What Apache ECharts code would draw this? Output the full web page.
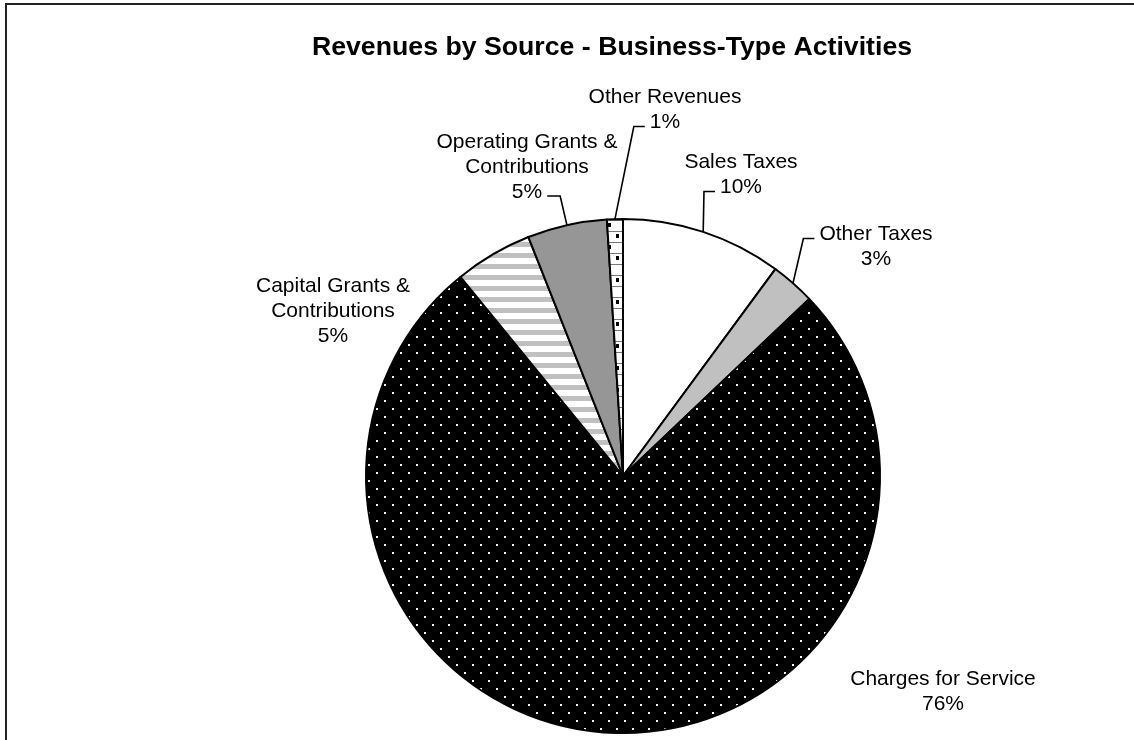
<!DOCTYPE html>
<html>
<head>
<meta charset="utf-8">
<title>Revenues by Source - Business-Type Activities</title>
<script src="https://cdn.jsdelivr.net/npm/echarts@6/dist/echarts.min.js"></script>
<style>
  html, body { margin: 0; padding: 0; background: #fff; }
  #chart { width: 1134px; height: 740px; }
</style>
</head>
<body>
<div id="chart"></div>
<script>
// Revenue sources, clockwise from 12 o'clock
const categories = ['Sales Taxes', 'Other Taxes', 'Charges for Service',
  'Capital Grants & Contributions', 'Operating Grants & Contributions', 'Other Revenues'];
const labelNames = ['Sales Taxes', 'Other Taxes', 'Charges for Service',
  'Capital Grants &\nContributions', 'Operating Grants &\nContributions', 'Other Revenues'];
const values = [10.1, 2.8, 76.2, 4.9, 5.0, 1.0];

const FONT = "'Liberation Sans', Arial, sans-serif";
const LABEL_SIZE = 21;
const LINE_H = 25;

// Fill patterns
function tile(w, h, draw) {
  const c = document.createElement('canvas');
  c.width = w; c.height = h;
  const ctx = c.getContext('2d');
  draw(ctx, w, h);
  return { image: c, repeat: 'repeat' };
}
const dotted = tile(16, 16, (ctx, w, h) => {
  ctx.fillStyle = '#000'; ctx.fillRect(0, 0, w, h);
  ctx.fillStyle = '#fff'; ctx.fillRect(0, 0, 2, 2); ctx.fillRect(8, 8, 2, 2);
});
const striped = tile(8, 11, (ctx, w, h) => {
  ctx.fillStyle = '#fff'; ctx.fillRect(0, 0, w, h);
  ctx.fillStyle = '#c0c0c0'; ctx.fillRect(0, 0, w, 5);
});
const blocks = tile(16, 22, (ctx, w, h) => {
  ctx.fillStyle = '#fff'; ctx.fillRect(0, 0, w, h);
  ctx.fillStyle = '#777'; ctx.fillRect(0, 0, w, 1); ctx.fillRect(0, 11, w, 1);
  ctx.fillStyle = '#000'; ctx.fillRect(0, 3, 3, 4); ctx.fillRect(8, 14, 3, 4);
});
const fills = ['#ffffff', '#c0c0c0', dotted, striped, '#969696', blocks];

// Label placement: block centre, and which line/side the leader attaches to
const labelPlace = [
  { c: [741, 175], line: 1, side: 'left' },
  { c: [876, 247], line: 0, side: 'left' },
  { c: [943, 692], line: null },
  { c: [333, 311], line: null },
  { c: [527, 167], line: 2, side: 'right' },
  { c: [665, 110], line: 1, side: 'left' }
];

const measureCtx = document.createElement('canvas').getContext('2d');
measureCtx.font = LABEL_SIZE + 'px ' + FONT;

const chart = echarts.init(document.getElementById('chart'), null, { renderer: 'canvas' });

const data = categories.map((name, i) => ({
  name: name,
  value: values[i],
  itemStyle: { color: fills[i] },
  labelLine: { show: labelPlace[i].line !== null }
}));

chart.setOption({
  animation: false,
  backgroundColor: '#fff',
  graphic: [
    {
      type: 'rect', z: 0, silent: true,
      shape: { x: 6, y: 4, width: 1200, height: 800 },
      style: { fill: 'none', stroke: '#222', lineWidth: 2 }
    },
    {
      type: 'text', z: 10, x: 612, y: 48,
      style: {
        text: 'Revenues by Source - Business-Type Activities',
        font: 'bold 26.7px ' + FONT, fill: '#000',
        textAlign: 'center', textVerticalAlign: 'middle'
      }
    }
  ],
  series: [{
    type: 'pie',
    center: [623, 476],
    radius: 257,
    startAngle: 90,
    clockwise: true,
    percentPrecision: 0,
    avoidLabelOverlap: false,
    data: data,
    itemStyle: { borderColor: '#000', borderWidth: 2 },
    label: {
      show: true,
      position: 'outside',
      formatter: p => labelNames[p.dataIndex] + '\n' + p.percent + '%',
      fontFamily: FONT,
      fontSize: LABEL_SIZE,
      lineHeight: LINE_H,
      color: '#000',
      align: 'center'
    },
    labelLine: { show: true, length: 10, length2: 10, lineStyle: { color: '#000', width: 1.6 } },
    labelLayout: function (params) {
      const place = labelPlace[params.dataIndex];
      const out = { x: place.c[0], y: place.c[1], align: 'center', verticalAlign: 'middle' };
      if (place.line !== null && params.labelLinePoints) {
        const textLines = params.text.split('\n');
        const w = measureCtx.measureText(textLines[place.line]).width;
        const top = place.c[1] - textLines.length * LINE_H / 2;
        const y = top + (place.line + 0.5) * LINE_H + 4;
        const start = params.labelLinePoints[0];
        let endX, elbowX;
        if (place.side === 'left') {
          endX = place.c[0] - w / 2 - 5; elbowX = endX - 11;
        } else {
          endX = place.c[0] + w / 2 + 5; elbowX = endX + 13;
        }
        out.labelLinePoints = [start, [elbowX, y], [endX, y]];
      }
      return out;
    }
  }]
});
</script>
</body>
</html>
